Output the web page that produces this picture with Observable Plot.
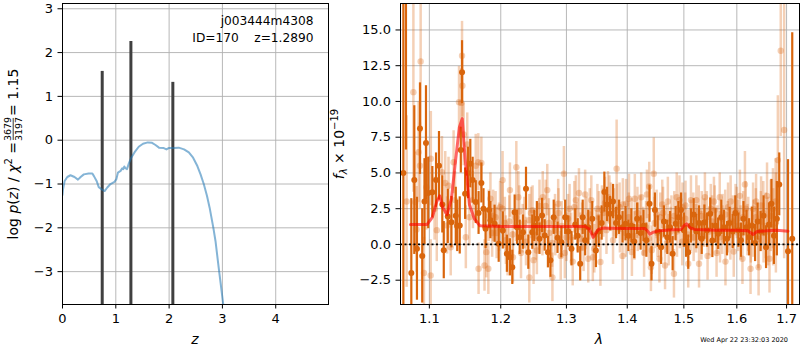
<!DOCTYPE html>
<html><head><meta charset="utf-8">
<script src="https://cdn.jsdelivr.net/npm/d3@7"></script>
<script src="https://cdn.jsdelivr.net/npm/@observablehq/plot@0.6"></script>
<style>
html,body{margin:0;padding:0;background:#fff;}
#wrap{position:relative;width:800px;height:350px;font-family:"DejaVu Sans",sans-serif;overflow:hidden;}
#wrap svg{position:absolute;top:0;}
</style></head><body><div id="wrap"></div>
<script>
// ---------- left panel: log p(z) ----------
const pzZ = [0.0,0.01,0.04,0.09,0.15,0.225,0.29,0.34,0.40,0.49,0.56,0.59,0.64,0.68,0.745,0.79,0.84,0.90,0.975,1.01,1.04,1.09,1.12,1.14,1.16,1.18,1.21,1.245,1.29,1.35,1.43,1.51,1.60,1.68,1.745,1.81,1.90,1.95,1.99,2.09,2.18,2.28,2.37,2.45,2.53,2.59,2.65,2.71,2.76,2.83,2.87,2.93,3.015];
const pzLog = [-1.25,-1.12,-0.93,-0.84,-0.80,-0.84,-0.90,-0.84,-0.78,-0.76,-0.76,-0.82,-0.93,-1.07,-1.13,-1.16,-1.08,-1.0,-0.95,-0.89,-0.74,-0.70,-0.64,-0.66,-0.60,-0.64,-0.66,-0.53,-0.40,-0.28,-0.15,-0.08,-0.05,-0.06,-0.11,-0.17,-0.18,-0.21,-0.18,-0.18,-0.17,-0.21,-0.28,-0.40,-0.59,-0.78,-1.0,-1.27,-1.54,-2.0,-2.30,-2.91,-3.74];
const peakZ = [0.745, 1.283, 2.07];
const peakTop = [1.57, 2.25, 1.32];
const leftXTicks = [0,1,2,3,4];
const leftYTicks = [-3,-2,-1,0,1,2,3];
const leftXDomain = [0, 4.99];
const leftYDomain = [-3.75, 3.12];
const titleLine1 = "j003444m4308";
const titleLine2 = "ID=170\u00a0\u00a0\u00a0\u00a0z=1.2890";

// ---------- right panel: spectrum ----------
const darkLam = [1.0657,1.0691,1.0761,1.0800,1.0835,1.0875,1.0905,1.0935,1.0955,1.0985,1.1040,1.1090,1.1130,1.1175,1.1195,1.1250,1.1300,1.1360,1.1380,1.1415,1.1430,1.1447,1.1490,1.1530,1.1563,1.1596,1.1640,1.1680,1.1720,1.1750,1.1780,1.1830,1.1850,1.1910,1.1970,1.2030,1.2090,1.2135,1.2170,1.2205,1.2240,1.2280,1.2330,1.2375,1.2410,1.2470,1.2500,1.2540,1.2580,1.2620,1.2660,1.2710,1.2749,1.2800,1.2860,1.2920,1.2980,1.3030,1.3080,1.3140,1.3180,1.3220,1.3260,1.3300,1.3350,1.3416,1.3475,1.3520,1.3570,1.3615,1.3660,1.3710,1.3760,1.3810,1.3860,1.3920,1.3970,1.4020,1.4070,1.4120,1.4170,1.4230,1.4280,1.4330,1.4385,1.4420,1.4480,1.4530,1.4590,1.4640,1.4700,1.4750,1.4796,1.4850,1.4900,1.4949,1.5000,1.5040,1.5080,1.5130,1.5180,1.5230,1.5280,1.5330,1.5380,1.5430,1.5490,1.5530,1.5590,1.5640,1.5700,1.5750,1.5810,1.5860,1.5920,1.5970,1.6030,1.6080,1.6130,1.6190,1.6240,1.6300,1.6360,1.6410,1.6470,1.6530,1.6580,1.6640,1.6690,1.6740,1.6800,1.6849,1.7030,1.7118];
const darkFlux = [5,20,-2,4.5,-0.3,8.1,-0.8,3.0,7.1,3.6,3.65,4.5,5.5,2.8,-0.4,1.96,1.56,2.0,1.3,1.33,6.6,12.05,3.55,5.0,5.65,4.5,2.96,2.2,4.3,2.5,1.1,2.4,1.7,1.45,0.05,0.98,-0.65,-0.9,-1.6,2.26,1.2,0.5,0.86,3.9,-0.54,0.86,1.3,1.8,0.4,2.03,0.63,-0.54,-1.1,1.9,0.47,0.16,1.9,0.9,-0.3,1.4,0.6,-1.35,1.9,0.3,1.2,1.8,-0.42,0.9,1.5,3.66,2.8,2.15,3.0,1.5,1.9,1.2,1.45,0.6,1.3,0.2,1.8,0.8,1.3,0.3,2.85,-1.35,2.4,0.9,-0.2,1.6,0.5,1.2,-0.65,1.45,1.9,2.4,1.0,0.2,-0.54,1.3,2.1,0.9,1.5,0.4,1.56,1.0,2.15,0.28,1.3,0.75,1.9,1.2,0.4,1.5,0.9,2.2,1.0,0.3,1.8,1.2,0.5,1.3,0.1,1.6,0.9,2.0,-0.19,1.4,2.85,0.6,1.8,4.2,-0.47,0.4];
const darkErr = [25,13.4,5.2,5.2,3.6,3.2,3.3,3.0,4.0,2.5,1.8,1.9,2.4,2.0,2.0,1.9,1.8,2.0,1.8,2.0,1.6,2.2,1.8,1.8,1.7,1.6,1.5,1.5,1.4,1.4,1.4,1.3,1.3,1.3,1.3,1.3,1.3,1.3,1.2,1.2,1.2,1.2,1.2,1.5,1.2,1.2,1.1,1.2,1.1,1.2,1.1,1.1,1.2,1.2,1.1,1.1,1.2,1.1,1.2,1.1,1.2,1.2,1.2,1.1,1.2,1.2,1.2,1.1,1.2,1.4,1.2,1.2,1.2,1.1,1.2,1.1,1.2,1.1,1.2,1.2,1.1,1.2,1.1,1.2,1.3,1.2,1.2,1.1,1.2,1.1,1.2,1.1,1.2,1.2,1.1,1.2,1.2,1.1,1.2,1.2,1.1,1.2,1.2,1.1,1.2,1.2,1.1,1.2,1.2,1.1,1.2,1.2,1.2,1.1,1.2,1.2,1.2,1.2,1.2,1.2,1.3,1.3,1.3,1.3,1.4,1.4,1.5,1.5,1.7,2.0,2.6,2.2,6.4,14.4];

const lightLam = [1.0700,1.0788,1.0813,1.0830,1.0857,1.0875,1.0884,1.0928,1.0960,1.1018,1.1020,1.1070,1.1100,1.1170,1.1215,1.1240,1.1260,1.1290,1.1330,1.1350,1.1405,1.1437,1.1447,1.1452,1.1470,1.1500,1.1520,1.1550,1.1600,1.1640,1.1676,1.1680,1.1720,1.1765,1.1790,1.1820,1.1850,1.1890,1.1940,1.1990,1.2027,1.2060,1.2100,1.2135,1.2180,1.2230,1.2260,1.2300,1.2350,1.2425,1.2450,1.2490,1.2540,1.2580,1.2630,1.2700,1.2730,1.2780,1.2820,1.2870,1.2910,1.2960,1.3000,1.3050,1.3100,1.3150,1.3200,1.3250,1.3300,1.3350,1.3400,1.3450,1.3500,1.3550,1.3600,1.3650,1.3700,1.3760,1.3820,1.3870,1.3920,1.3980,1.4030,1.4080,1.4130,1.4180,1.4240,1.4290,1.4340,1.4380,1.4410,1.4460,1.4510,1.4560,1.4610,1.4660,1.4710,1.4760,1.4820,1.4870,1.4920,1.4970,1.5030,1.5080,1.5130,1.5180,1.5230,1.5280,1.5330,1.5390,1.5440,1.5500,1.5560,1.5610,1.5670,1.5720,1.5780,1.5830,1.5880,1.5940,1.6000,1.6060,1.6110,1.6159,1.6210,1.6270,1.6320,1.6380,1.6430,1.6480,1.6530,1.6600,1.6650,1.6720,1.6780,1.6820,1.6880,1.6950];
const lightFlux = [3.0,10.65,2.96,1.05,6.45,5.5,12.8,-2.0,4.0,-2.17,6.0,2.5,1.0,5.05,4.3,1.33,4.1,-0.2,5.75,3.1,9.95,9.9,13.2,11.1,7.7,0.5,7.0,1.9,3.1,5.5,5.75,-1.7,5.7,-1.47,-0.54,-1.7,3.2,2.0,0.8,2.6,4.5,1.5,-0.4,3.8,-0.9,5.4,3.3,-0.6,1.5,-2.3,2.2,-1.1,-0.42,2.7,3.3,3.8,0.8,-2.3,1.8,2.85,-0.8,4.95,0.5,2.5,-1.2,3.1,3.6,1.2,3.5,-1.0,3.1,-0.3,2.5,-1.23,2.2,1.0,3.1,0.3,5.3,2.6,-0.8,2.85,3.2,-0.54,3.2,1.2,3.3,-0.6,3.5,4.05,-1.6,4.95,2.1,-1.0,2.8,-1.47,3.0,0.9,-2.05,3.3,3.1,0.2,2.73,-1.35,3.1,0.5,3.1,-1.35,2.0,3.3,-0.8,2.5,3.0,-0.6,3.3,1.0,-1.2,2.6,3.0,-0.5,2.2,3.4,-1.0,4.2,1.0,-1.7,2.5,3.0,-1.6,2.73,0.8,3.4,-1.0,2.5,1.5,5.9,13.55,8];
const lightErr = [6,7,3.5,3,3.5,3,5,2.5,3.0,2.5,3.3,2.2,2.2,2.5,2.2,2.0,2.0,2.0,2.2,2.0,2.5,2.4,2.4,2.2,2.2,2.2,2.2,2.0,2.0,2.2,2.0,1.8,1.8,1.8,1.8,1.8,1.8,1.8,1.8,1.8,2.0,1.8,1.8,1.9,1.8,1.8,1.8,1.8,1.8,1.8,1.8,1.7,1.7,1.8,1.8,1.8,1.7,1.7,1.7,1.7,1.7,1.9,1.7,1.7,1.7,1.7,1.7,1.7,1.7,1.7,1.7,1.7,1.7,1.7,1.7,1.7,1.7,1.7,3.4,1.7,1.7,1.7,1.7,1.7,1.7,1.7,1.7,1.7,1.7,1.7,1.7,2.5,1.7,1.7,1.7,1.7,1.7,1.7,1.7,1.7,1.7,1.7,1.7,1.7,1.7,1.7,1.7,1.7,1.7,1.7,1.7,1.7,1.7,1.7,1.7,1.7,1.7,1.7,1.8,1.8,1.8,1.8,1.8,2.3,1.8,1.8,1.8,1.9,2.0,2.0,2.1,2.3,2.4,2.8,3.5,4.5,6,9];

// second (interleaved) pale beam
const light2Lam = [1.1825,1.1875,1.1925,1.1975,1.2025,1.2075,1.2125,1.2175,1.2225,1.2275,1.2325,1.2375,1.2425,1.2475,1.2525,1.2575,1.2625,1.2675,1.2725,1.2775,1.2825,1.2875,1.2925,1.2975,1.3025,1.3075,1.3125,1.3175,1.3225,1.3275,1.3325,1.3375,1.3425,1.3475,1.3525,1.3575,1.3625,1.3675,1.3725,1.3775,1.3825,1.3875,1.3925,1.3975,1.4025,1.4075,1.4125,1.4175,1.4225,1.4275,1.4325,1.4375,1.4425,1.4475,1.4525,1.4575,1.4625,1.4675,1.4725,1.4775,1.4825,1.4875,1.4925,1.4975,1.5025,1.5075,1.5125,1.5175,1.5225,1.5275,1.5325,1.5375,1.5425,1.5475,1.5525,1.5575,1.5625,1.5675,1.5725,1.5775,1.5825,1.5875,1.5925,1.5975,1.6025,1.6075,1.6125,1.6175,1.6225,1.6275,1.6325,1.6375,1.6425,1.6475,1.6525,1.6575,1.6625,1.6675,1.6725,1.6775];
const light2Flux = [2.0,0.8,1.9,1.2,2.5,0.3,1.6,0.7,1.9,2.3,1.1,0.2,1.7,2.4,0.6,1.4,0.9,2.7,1.5,0.1,1.0,2.2,1.3,-0.6,1.8,0.5,2.6,1.2,0.4,-0.2,1.6,2.1,-0.9,0.7,1.9,2.4,2.9,3.3,2.6,2.2,2.4,1.1,2.8,0.8,1.9,1.4,0.6,2.2,1.7,0.9,1.2,0.4,-0.4,1.5,0.8,1.9,2.2,1.1,0.3,1.7,2.0,0.9,1.4,2.6,1.8,0.7,1.3,1.9,1.1,2.3,0.6,1.5,1.9,0.9,1.6,2.4,1.0,0.5,1.8,2.1,1.2,0.7,1.6,2.4,1.3,0.8,1.9,2.5,1.4,0.6,1.1,1.9,0.4,1.6,2.2,1.3,0.9,2.0,1.2,3.0];
const light2Err = [1.8,1.7,1.8,1.7,1.8,1.7,1.8,1.7,1.7,1.8,1.7,1.7,1.8,1.7,1.7,1.8,1.7,1.8,1.7,1.7,1.8,1.7,1.7,1.8,1.7,1.7,1.8,1.7,1.8,1.7,1.7,1.8,1.7,1.7,1.8,1.7,1.8,1.8,1.7,1.7,1.8,1.7,1.8,1.7,1.7,1.8,1.7,1.8,1.7,1.7,1.8,1.7,1.7,1.8,1.7,1.7,1.8,1.7,1.8,1.7,1.7,1.8,1.7,1.7,1.8,1.7,1.8,1.7,1.7,1.8,1.7,1.7,1.8,1.7,1.8,1.7,1.7,1.8,1.7,1.7,1.8,1.8,1.8,1.8,1.8,1.9,1.8,1.9,1.9,1.9,2.0,2.0,2.1,2.1,2.2,2.3,2.4,2.5,2.7,3.0];

const modelLam = [1.075,1.097,1.104,1.110,1.114,1.118,1.124,1.130,1.136,1.141,1.145,1.149,1.155,1.162,1.170,1.200,1.250,1.300,1.330,1.336,1.340,1.343,1.347,1.352,1.360,1.370,1.400,1.430,1.435,1.439,1.445,1.455,1.480,1.495,1.500,1.505,1.512,1.520,1.560,1.600,1.622,1.628,1.632,1.640,1.660,1.680,1.703];
const modelFlux = [1.4,1.4,1.9,3.0,3.4,2.6,2.08,3.2,6.0,8.2,8.8,6.0,2.8,1.8,1.3,1.26,1.26,1.26,1.25,1.1,0.8,0.5,0.75,1.05,1.15,1.14,1.12,1.12,0.95,0.72,0.85,0.95,1.02,1.05,1.3,1.45,1.15,1.05,1.0,1.0,0.95,0.8,0.7,0.9,0.95,1.0,0.93];

const rightXTicks = [1.1,1.2,1.3,1.4,1.5,1.6,1.7];
const rightYTicks = [-2.5,0,2.5,5,7.5,10,12.5,15];
const rightXDomain = [1.062, 1.727];
const rightYDomain = [-4.2, 16.85];
const stamp = "Wed Apr 22 23:32:03 2020";

// ---------- styles ----------
const FONT = "DejaVu Sans";
const FS = 13;
const gridColor = "#b0b0b0";
const darkColor = "#d9650c";
const minus = s => String(s).replace("-", "\u2212");

const pz = pzZ.map((z, i) => ({z, lp: pzLog[i]}));
const peaks = peakZ.map((z, i) => ({z, top: peakTop[i]}));
const dark = darkLam.map((l, i) => ({l, f: darkFlux[i], e: darkErr[i]}));
const light = lightLam.map((l, i) => ({l, f: lightFlux[i], e: lightErr[i]}))
  .concat(light2Lam.map((l, i) => ({l, f: light2Flux[i], e: light2Err[i]})));
const model = modelLam.map((l, i) => ({l, f: modelFlux[i]}));

const wrap = document.getElementById("wrap");

const left = Plot.plot({
  width: 340, height: 350,
  marginLeft: 62, marginRight: 12, marginTop: 3, marginBottom: 46,
  style: {fontFamily: FONT, fontSize: FS + "px", color: "#000", background: "transparent", overflow: "visible"},
  x: {domain: leftXDomain, ticks: leftXTicks, tickFormat: d => minus(d), label: null, tickSize: 4.5, tickPadding: 5},
  y: {domain: leftYDomain, ticks: leftYTicks, tickFormat: d => minus(d), label: null, tickSize: 4.5, tickPadding: 5},
  marks: [
    Plot.ruleX(leftXTicks, {stroke: gridColor, strokeWidth: 0.9}),
    Plot.ruleY(leftYTicks, {stroke: gridColor, strokeWidth: 0.9}),
    Plot.ruleX(peaks, {x: "z", y1: () => leftYDomain[0], y2: "top", stroke: "#404040", strokeWidth: 3}),
    Plot.line(pz, {x: "z", y: "lp", stroke: "#1f77b4", strokeOpacity: 0.55, strokeWidth: 2, clip: true}),
    Plot.text([titleLine1], {frameAnchor: "top-right", text: d => d, dx: -15, dy: 13, fontSize: 12.2, textAnchor: "end"}),
    Plot.text([titleLine2], {frameAnchor: "top-right", text: d => d, dx: -15, dy: 30, fontSize: 12.2, textAnchor: "end"}),
    Plot.frame({stroke: "#000", strokeWidth: 1})
  ]
});
left.style.left = "0px";
wrap.appendChild(left);

const right = Plot.plot({
  width: 460, height: 350,
  marginLeft: 60, marginRight: 1, marginTop: 3, marginBottom: 46,
  style: {fontFamily: FONT, fontSize: FS + "px", color: "#000", background: "transparent", overflow: "visible"},
  x: {type: "log", domain: rightXDomain, ticks: rightXTicks, tickFormat: d3.format(".1f"), label: null, tickSize: 4.5, tickPadding: 5},
  y: {domain: rightYDomain, ticks: rightYTicks, tickFormat: d3.format(".1f"), label: null, tickSize: 4.5, tickPadding: 5},
  marks: [
    Plot.ruleX(rightXTicks, {stroke: gridColor, strokeWidth: 0.9}),
    Plot.ruleY(rightYTicks, {stroke: gridColor, strokeWidth: 0.9}),
    Plot.ruleX(light, {x: "l", y1: d => d.f - d.e, y2: d => d.f + d.e, stroke: darkColor, strokeOpacity: 0.3, strokeWidth: 2.5, clip: true}),
    Plot.dot(light, {x: "l", y: "f", r: 3.2, fill: darkColor, fillOpacity: 0.3, stroke: "none", clip: true}),
    Plot.ruleX(dark, {x: "l", y1: d => d.f - d.e, y2: d => d.f + d.e, stroke: darkColor, strokeWidth: 2.2, clip: true}),
    Plot.dot(dark, {x: "l", y: "f", r: 3, fill: darkColor, stroke: "none", clip: true}),
    Plot.ruleY([0], {stroke: "#000", strokeWidth: 1.8, strokeDasharray: "2,2.5"}),
    Plot.line(model, {x: "l", y: "f", stroke: "#ff0000", strokeOpacity: 0.6, strokeWidth: 3, clip: true}),
    Plot.frame({stroke: "#000", strokeWidth: 1})
  ]
});
right.style.left = "340px";
wrap.appendChild(right);

// ---------- overlay labels ----------
const ov = d3.select(wrap).append("svg")
  .attr("width", 800).attr("height", 350)
  .style("left", "0px")
  .attr("font-family", FONT).attr("font-size", FS + 1);

// left y label
const gl = ov.append("g");
const t1 = gl.append("text");
t1.append("tspan").text("log ");
t1.append("tspan").attr("font-style", "italic").text("p");
t1.append("tspan").text("(");
t1.append("tspan").attr("font-style", "italic").text("z");
t1.append("tspan").text(") / ");
t1.append("tspan").attr("font-style", "italic").text("\u03c7");
t1.append("tspan").attr("font-size", 10).attr("dy", -6).text("2");
t1.append("tspan").attr("dy", 6).text(" = ");
const w1 = t1.node().getComputedTextLength() + 2;
const fw = 22;
gl.append("text").attr("x", w1 + fw / 2).attr("y", -7).attr("font-size", 9.5).attr("text-anchor", "middle").text("3679");
gl.append("line").attr("x1", w1).attr("x2", w1 + fw).attr("y1", -4.8).attr("y2", -4.8).attr("stroke", "#000").attr("stroke-width", 0.8);
gl.append("text").attr("x", w1 + fw / 2).attr("y", 4).attr("font-size", 9.5).attr("text-anchor", "middle").text("3197");
const t2 = gl.append("text").attr("x", w1 + fw + 2).text(" = 1.15");
const total = w1 + fw + 2 + t2.node().getComputedTextLength();
gl.attr("transform", `translate(18,${154 + total / 2}) rotate(-90)`);

// right y label
const gr = ov.append("g");
const t3 = gr.append("text");
t3.append("tspan").attr("font-style", "italic").text("f");
t3.append("tspan").attr("font-style", "italic").attr("font-size", 10).attr("dy", 3).text("\u03bb");
t3.append("tspan").attr("dy", -3).text(" \u00d7 10");
t3.append("tspan").attr("font-size", 10).attr("dy", -6).text("\u221219");
const w3 = t3.node().getComputedTextLength();
gr.attr("transform", `translate(344,${144 + w3 / 2}) rotate(-90)`);

// x labels
ov.append("text").attr("x", 195).attr("y", 344).attr("text-anchor", "middle").attr("font-style", "italic").text("z");
ov.append("text").attr("x", 599).attr("y", 344).attr("text-anchor", "middle").attr("font-style", "italic").text("\u03bb");
// timestamp
ov.append("text").attr("x", 788).attr("y", 342).attr("text-anchor", "end").attr("font-size", 6.5).text(stamp);
</script></body></html>
